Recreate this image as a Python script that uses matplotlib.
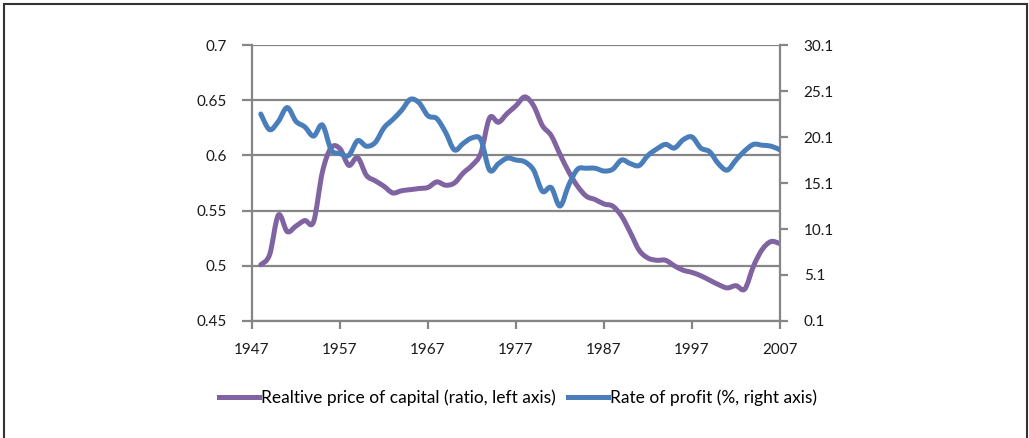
import matplotlib
matplotlib.use("Agg")
import matplotlib.pyplot as plt
from matplotlib.patches import Rectangle, PathPatch
from matplotlib.path import Path
from matplotlib.lines import Line2D
import numpy as np

years = list(range(1948, 2008))
price_capital = [
    0.501, 0.510, 0.546, 0.531, 0.536, 0.541, 0.540, 0.585, 0.607, 0.606,
    0.591, 0.598, 0.582, 0.577, 0.572, 0.566, 0.568, 0.569, 0.570, 0.571,
    0.576, 0.573, 0.575, 0.584, 0.591, 0.602, 0.634, 0.630, 0.638, 0.645,
    0.653, 0.645, 0.627, 0.618, 0.601, 0.585, 0.572, 0.563, 0.560, 0.556,
    0.554, 0.545, 0.530, 0.514, 0.507, 0.505, 0.505, 0.500, 0.496, 0.494,
    0.491, 0.487, 0.483, 0.480, 0.482, 0.479, 0.500, 0.515, 0.522, 0.520,
]
profit_rate = [
    22.6, 20.9, 21.8, 23.3, 21.8, 21.2, 20.2, 21.4, 18.7, 18.3,
    18.1, 19.7, 19.1, 19.5, 21.1, 22.0, 23.0, 24.2, 23.8, 22.4,
    22.1, 20.6, 18.7, 19.4, 20.0, 19.8, 16.5, 17.2, 17.8, 17.6,
    17.4, 16.5, 14.2, 14.6, 12.6, 14.9, 16.6, 16.7, 16.7, 16.4,
    16.6, 17.6, 17.2, 17.0, 18.1, 18.8, 19.3, 18.9, 19.8, 20.1,
    18.9, 18.5, 17.2, 16.5, 17.6, 18.6, 19.3, 19.2, 19.1, 18.7,
]
x_ticks = [1947, 1957, 1967, 1977, 1987, 1997, 2007]
left_ticks = [0.45, 0.5, 0.55, 0.6, 0.65, 0.7]
left_labels = ["0.45", "0.5", "0.55", "0.6", "0.65", "0.7"]
right_ticks = [0.1, 5.1, 10.1, 15.1, 20.1, 25.1, 30.1]
right_labels = ["0.1", "5.1", "10.1", "15.1", "20.1", "25.1", "30.1"]
legend_labels = ["Realtive price of capital (ratio, left axis)",
                 "Rate of profit (%, right axis)"]

PURPLE = "#8064A2"
BLUE = "#4A7EBB"
GRAY = "#868686"
LW = 3.6


def smooth_path(xs, ys):
    """Excel-style smoothed line: cubic Bezier through the data points."""
    p = np.column_stack([xs, ys]).astype(float)
    n = len(p)
    verts = [p[0]]
    codes = [Path.MOVETO]
    for i in range(n - 1):
        p0 = p[i - 1] if i > 0 else p[i]
        p1 = p[i]
        p2 = p[i + 1]
        p3 = p[i + 2] if i + 2 < n else p[i + 1]
        c1 = p1 + (p2 - p0) / 6.0
        c2 = p2 - (p3 - p1) / 6.0
        verts += [c1, c2, p2]
        codes += [Path.CURVE4] * 3
    return Path(verts, codes)


plt.rcParams['font.family'] = ['Lato', 'DejaVu Sans']
W, H = 1029, 438
fig = plt.figure(figsize=(W / 100, H / 100), dpi=100)
fig.patch.set_facecolor("white")
fig.add_artist(Rectangle((4 / W, -0.01), (1027 - 4) / W, 1.01 - 4 / H,
                         transform=fig.transFigure, fill=False,
                         edgecolor="#333333", linewidth=1.5))

ax = fig.add_axes([252 / W, 1 - 321 / H, (780 - 252) / W, (321 - 45) / H])
ax2 = ax.twinx()

ax.set_xlim(1947, 2007)
ax.set_ylim(0.45, 0.7)
ax2.set_ylim(0.1, 30.1)

for y in left_ticks:
    ax.axhline(y, color=GRAY, lw=1.6, zorder=1)

ax.add_patch(PathPatch(smooth_path(years, price_capital), fill=False,
                       edgecolor=PURPLE, lw=LW, joinstyle="round",
                       capstyle="round", zorder=3))
ax2.add_patch(PathPatch(smooth_path(years, profit_rate), fill=False,
                        edgecolor=BLUE, lw=LW, joinstyle="round",
                        capstyle="round", zorder=3))

for a in (ax, ax2):
    for s in a.spines.values():
        s.set_visible(False)
for a, side in ((ax, 'left'), (ax, 'bottom'), (ax2, 'right')):
    a.spines[side].set_visible(True)
    a.spines[side].set_color(GRAY)
    a.spines[side].set_linewidth(1.6)

ax.set_xticks(x_ticks)
ax.set_xticklabels([str(v) for v in x_ticks])
ax.set_yticks(left_ticks)
ax.set_yticklabels(left_labels)
ax2.set_yticks(right_ticks)
ax2.set_yticklabels(right_labels)

ax.tick_params(axis='x', direction='out', length=6, width=1.6, color=GRAY,
               labelsize=11, pad=10, labelcolor="#1a1a1a")
ax.tick_params(axis='y', direction='out', length=7, width=1.6, color=GRAY,
               labelsize=11, pad=11, labelcolor="#1a1a1a")
ax2.tick_params(axis='y', direction='out', length=6, width=1.6, color=GRAY,
                labelsize=11, pad=11, labelcolor="#1a1a1a")

ax.set_zorder(ax2.get_zorder() - 1)
ax.patch.set_visible(True)
ax2.patch.set_visible(False)

handles = [Line2D([], [], color=PURPLE, lw=LW),
           Line2D([], [], color=BLUE, lw=LW)]
fig.legend(handles=handles, labels=legend_labels, loc="center",
           bbox_to_anchor=(518 / W, 1 - 398 / H),
           ncol=2, frameon=False, fontsize=12.5, handlelength=2.3,
           handletextpad=0.1, columnspacing=0.7)

fig.savefig("out.png", dpi=100, facecolor="white")
